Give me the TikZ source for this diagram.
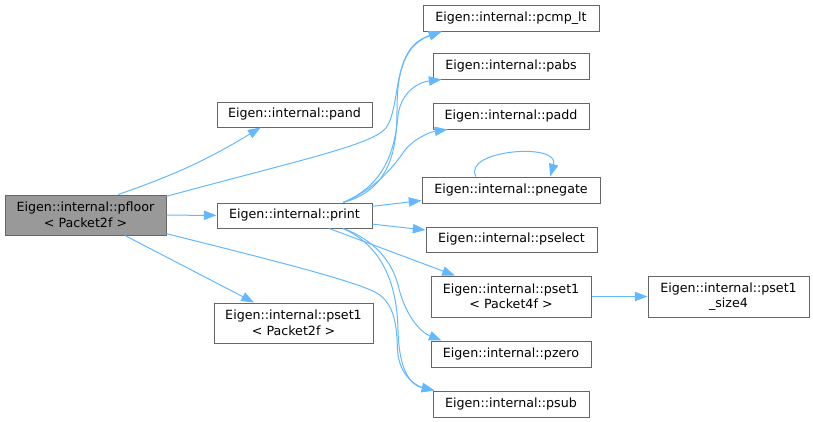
\documentclass[tikz,border=0pt]{standalone}
\usepackage{fontspec}
\setmainfont{DejaVu Sans}
\usepackage{tikz}
\usetikzlibrary{arrows.meta}

\definecolor{bordoGrigio}{HTML}{666666}
\definecolor{riempGrigio}{HTML}{999999}
\definecolor{frecciaBlu}{HTML}{63B8FF}

\begin{document}
\begin{tikzpicture}[x=0.75pt, y=0.75pt,
    nodo/.style={draw=bordoGrigio, line width=0.75pt, fill=white, inner sep=0pt,
        align=center, font=\fontsize{9.5}{11.6}\selectfont},
    larg/.style={minimum width=#1*0.75pt},
    alt/.style={minimum height=#1*0.75pt},
    freccia/.style={draw=frecciaBlu, line width=0.75pt, -{Triangle[length=9.5pt,width=7pt]}}
]

    \useasboundingbox (0,0) rectangle (813,-421);

    % ==========================================
    % 1. NODI (A SINISTRA E AL CENTRO)
    % ==========================================
    \node[nodo, fill=riempGrigio, larg=161, alt=40] (pfloor) at (85.5,-215) {Eigen::internal::pfloor\\< Packet2f >};
    \node[nodo, larg=155, alt=25] (pand) at (294.5,-114.5) {Eigen::internal::pand};
    \node[nodo, larg=155, alt=25] (print) at (294.5,-215.5) {Eigen::internal::print};
    \node[nodo, larg=159, alt=40] (pset1Due) at (293.5,-323) {Eigen::internal::pset1\\< Packet2f >};

    % ==========================================
    % 2. NODI (COLONNA A DESTRA)
    % ==========================================
    \node[nodo, larg=176, alt=26] (pcmplt) at (511,-18) {Eigen::internal::pcmp\_lt};
    \node[nodo, larg=156, alt=26] (pabs) at (511,-66) {Eigen::internal::pabs};
    \node[nodo, larg=156, alt=26] (padd) at (511,-116) {Eigen::internal::padd};
    \node[nodo, larg=178, alt=26] (pnegate) at (511,-190) {Eigen::internal::pnegate};
    \node[nodo, larg=171, alt=25] (pselect) at (511.5,-239.5) {Eigen::internal::pselect};
    \node[nodo, larg=160, alt=41] (pset1Quattro) at (511,-296.5) {Eigen::internal::pset1\\< Packet4f >};
    \node[nodo, larg=160, alt=26] (pzero) at (511,-354) {Eigen::internal::pzero};
    \node[nodo, larg=156, alt=26] (psub) at (511,-404) {Eigen::internal::psub};
    \node[nodo, larg=161, alt=41] (pset1Size) at (728.5,-296.5) {Eigen::internal::pset1\\\_size4};

    % ==========================================
    % 3. LE FRECCE
    % ==========================================
    % Da pfloor
    \draw[freccia] (pfloor) -- (print);
    \draw[freccia] (pfloor.32) to[bend right=6] (pand.201);
    \draw[freccia] (pfloor) -- (pset1Due);
    \draw[freccia] (pfloor.13) .. controls (300,-160) and (372,-145) .. (386,-128)
        .. controls (402,-105) and (390,-50) .. (pcmplt.191);
    \draw[freccia] (pfloor.-13) .. controls (280,-262) and (350,-280) .. (375,-292)
        .. controls (400,-305) and (396,-340) .. (398,-355)
        .. controls (402,-380) and (420,-387) .. (psub.170);

    % Da print
    \draw[freccia] (print.15) .. controls (390,-190) and (397,-150) .. (397,-110)
        .. controls (397,-60) and (410,-42) .. (pcmplt.191);
    \draw[freccia] (print.15) .. controls (385,-185) and (395,-150) .. (398,-115)
        .. controls (402,-90) and (420,-82) .. (pabs.191);
    \draw[freccia] (print.15) .. controls (375,-190) and (395,-165) .. (405,-150)
        .. controls (415,-138) and (430,-132) .. (padd.192);
    \draw[freccia] (print) -- (pnegate);
    \draw[freccia] (print) -- (pselect);
    \draw[freccia] (print) -- (pset1Quattro);
    \draw[freccia] (print.-15) .. controls (375,-240) and (392,-262) .. (398,-285)
        .. controls (405,-315) and (420,-332) .. (pzero.169);
    \draw[freccia] (print.-15) .. controls (380,-245) and (397,-280) .. (398,-330)
        .. controls (399,-370) and (410,-385) .. (psub.170);

    % Ciclo su pnegate e ultima freccia
    \draw[freccia] (pnegate.159) .. controls (462,-150) and (560,-142) .. (pnegate.19);
    \draw[freccia] (pset1Quattro) -- (pset1Size);

\end{tikzpicture}
\end{document}
